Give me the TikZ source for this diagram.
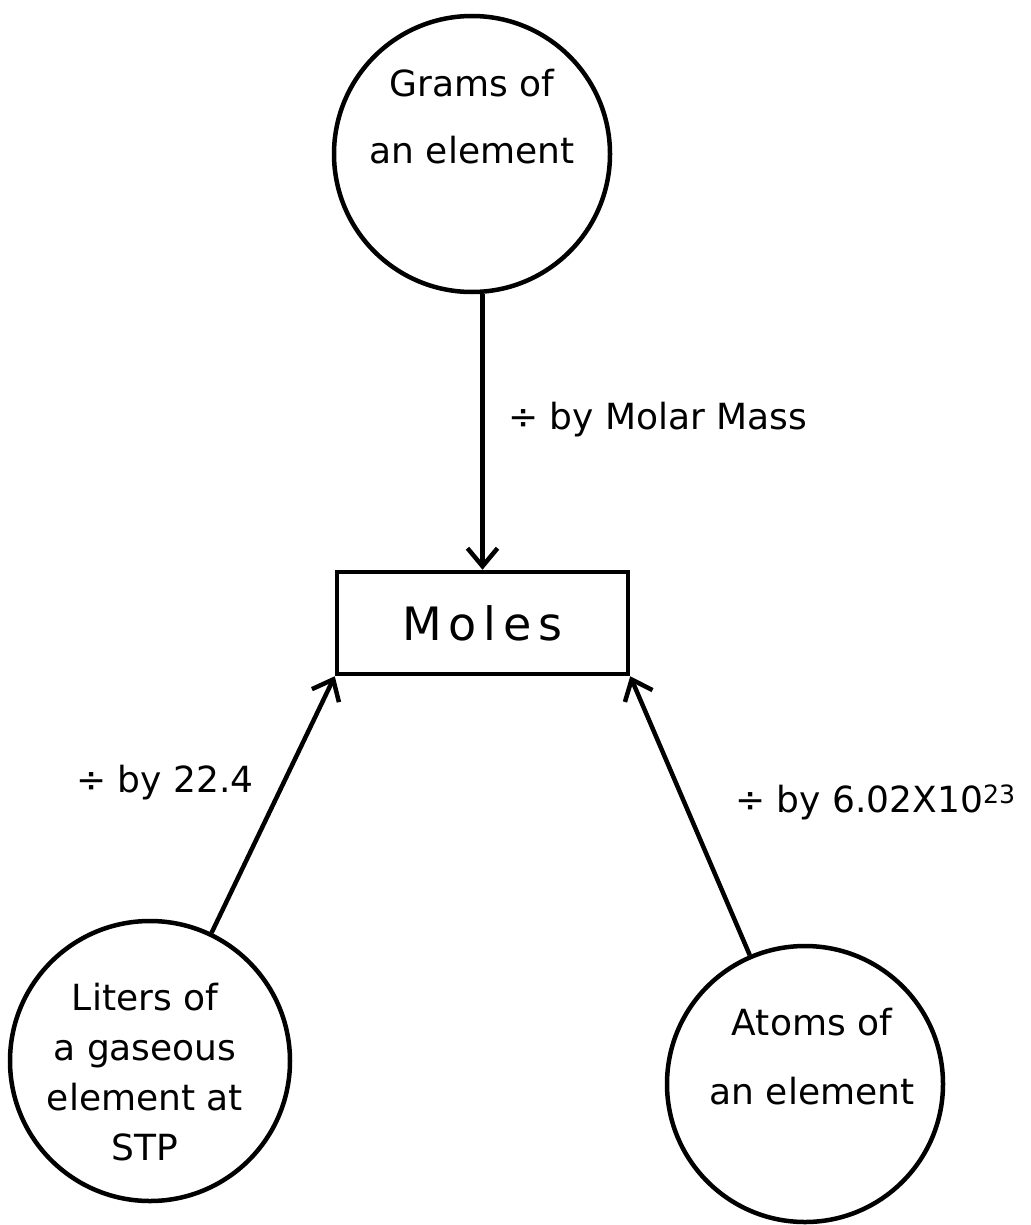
\documentclass[tikz,border=0pt]{standalone}
\usepackage{fontspec}
\setmainfont{DejaVu Sans}
\usetikzlibrary{arrows.meta}
\begin{document}
\begin{tikzpicture}[x=1pt,y=-1pt,
  ink/.style={line width=4.5pt, draw=black},
  bubble/.style={ink, circle, inner sep=0pt},
  hand/.style={align=center, inner sep=0pt},
  arr/.style={line width=4.5pt, black, -{Straight Barb[length=18pt,width=30pt,line width=4.5pt]}},
  lbl/.style={font=\fontsize{36}{44}\selectfont, anchor=west, inner sep=0pt}]
\useasboundingbox[fill=white] (0,0) rectangle (1030,1225);
% circles
\node[bubble, minimum size=276pt] (grams) at (472,154) {};
\node[bubble, minimum size=280pt] (liters) at (150,1061) {};
\node[bubble, minimum size=276pt] (atoms) at (805,1084) {};
% circle texts
\node[hand, font=\fontsize{36}{67}\selectfont] (gramstext) at (472,117) {Grams of\\an element};
\node[hand, font=\fontsize{36}{50}\selectfont] (literstext) at (145,1072) {Liters of\\a gaseous\\element at\\STP};
\node[hand, font=\fontsize{36}{69}\selectfont] (atomstext) at (812,1057) {Atoms of\\an element};
% box
\node[ink, minimum width=291pt, minimum height=102pt, inner sep=0pt,
      font=\fontsize{46}{50}\selectfont] (moles) at (482.5,623)
      {\addfontfeatures{LetterSpace=15}Moles};
% connectors
\draw[arr] (grams.south -| moles.north) -- (moles.north);
\draw[arr] (liters) -- (moles.south west);
\draw[arr] (atoms) -- (moles.south east);
% labels
\node[lbl] (molar) at (508,420) {÷ by Molar Mass};
\node[lbl] (vol) at (76,783) {÷ by 22.4};
\node[lbl] (avo) at (735,802) {÷ by 6.02X10\textsuperscript{23}};
\end{tikzpicture}
\end{document}
